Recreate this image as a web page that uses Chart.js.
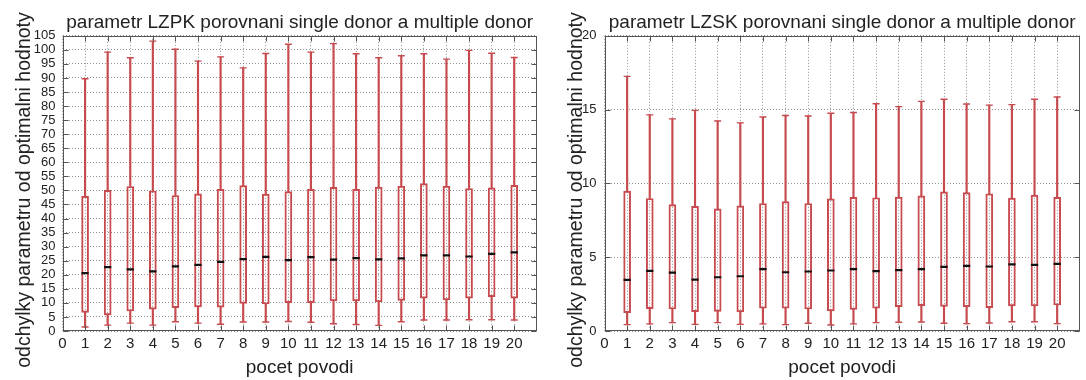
<!DOCTYPE html>
<html>
<head>
<meta charset="utf-8">
<script src="https://cdn.jsdelivr.net/npm/chart.js@4/dist/chart.umd.min.js"></script>
<style>
  html, body { margin: 0; padding: 0; background: #fff; }
  .panel { position: absolute; top: 0; width: 543px; height: 380px; }
  #p1 { left: 0; }
  #p2 { left: 543px; }
</style>
</head>
<body>
<div class="panel" id="p1"><canvas id="c1"></canvas></div>
<div class="panel" id="p2"><canvas id="c2"></canvas></div>
<script>
// Number of catchments (x positions of the boxes)
const povodi = [1, 2, 3, 4, 5, 6, 7, 8, 9, 10, 11, 12, 13, 14, 15, 16, 17, 18, 19, 20];
const xTicks = [0, 1, 2, 3, 4, 5, 6, 7, 8, 9, 10, 11, 12, 13, 14, 15, 16, 17, 18, 19, 20];

// LZPK: whisker ends, quartiles and medians
const lzpkLow  = [1.4, 2.1, 2.8, 2.1, 3.3, 2.8, 2.4, 3.2, 3.2, 3.4, 3.1, 2.6, 2.3, 2.0, 3.3, 3.9, 3.9, 4.0, 4.0, 3.9];
const lzpkQ1   = [6.6, 5.7, 7.1, 7.8, 8.3, 8.6, 8.5, 9.8, 9.6, 10.1, 10.1, 10.7, 10.7, 10.4, 10.9, 11.7, 11.1, 11.7, 12.2, 11.7];
const lzpkMed  = [20.6, 22.7, 21.9, 21.2, 23.0, 23.5, 24.6, 25.6, 26.4, 25.2, 26.3, 25.4, 25.9, 25.5, 25.8, 26.9, 26.9, 26.5, 27.4, 28.0];
const lzpkQ3   = [47.9, 50.0, 51.4, 49.8, 48.2, 48.8, 50.4, 51.7, 48.7, 49.6, 50.4, 51.1, 50.4, 51.2, 51.5, 52.4, 51.5, 50.7, 50.9, 51.8];
const lzpkHigh = [89.7, 99.2, 97.2, 103.1, 100.2, 96.0, 97.5, 93.6, 98.7, 102.0, 99.2, 102.2, 98.6, 97.2, 97.9, 98.6, 96.7, 99.8, 98.8, 97.3];
const lzpkYTicks = [0, 5, 10, 15, 20, 25, 30, 35, 40, 45, 50, 55, 60, 65, 70, 75, 80, 85, 90, 95, 100, 105];

// LZSK: whisker ends, quartiles and medians
const lzskLow  = [0.43, 0.48, 0.57, 0.45, 0.57, 0.45, 0.48, 0.43, 0.52, 0.41, 0.48, 0.57, 0.59, 0.61, 0.52, 0.50, 0.54, 0.63, 0.63, 0.50];
const lzskQ1   = [1.24, 1.52, 1.49, 1.31, 1.33, 1.29, 1.54, 1.54, 1.49, 1.36, 1.47, 1.54, 1.65, 1.72, 1.67, 1.65, 1.58, 1.70, 1.70, 1.76];
const lzskMed  = [3.46, 4.07, 3.96, 3.48, 3.64, 3.71, 4.19, 3.98, 4.03, 4.10, 4.19, 4.05, 4.12, 4.19, 4.34, 4.41, 4.37, 4.52, 4.48, 4.55];
const lzskQ3   = [9.48, 8.98, 8.57, 8.44, 8.28, 8.48, 8.64, 8.76, 8.64, 8.96, 9.05, 9.03, 9.07, 9.16, 9.43, 9.37, 9.30, 9.00, 9.21, 9.05];
const lzskHigh = [17.25, 14.64, 14.37, 14.95, 14.23, 14.10, 14.50, 14.60, 14.57, 14.75, 14.80, 15.40, 15.20, 15.56, 15.70, 15.38, 15.30, 15.34, 15.70, 15.85];
const lzskYTicks = [0, 5, 10, 15, 20];

const RED = 'rgb(198, 74, 78)';
const INK = '#222';
const FONT = "'Liberation Sans', Arial, Helvetica, sans-serif";
const Y_LABEL = 'odchylky parametru od optimalni hodnoty';

// Plot frame with inward tick marks on all four sides (gnuplot style)
const framePlugin = {
  id: 'frame',
  afterDatasetsDraw(chart) {
    const { ctx, chartArea: a, scales: { x, y } } = chart;
    const L = Math.round(a.left) + 0.5, R = Math.round(a.right) - 0.5;
    const T = Math.round(a.top) + 0.5, B = Math.round(a.bottom) - 0.5;
    const len = 5;
    ctx.save();
    ctx.strokeStyle = '#555';
    ctx.lineWidth = 1;
    ctx.beginPath();
    x.ticks.forEach(t => {
      const px = Math.round(x.getPixelForValue(t.value)) + 0.5;
      ctx.moveTo(px, B); ctx.lineTo(px, B - len);
      ctx.moveTo(px, T); ctx.lineTo(px, T + len);
    });
    y.ticks.forEach(t => {
      const py = Math.round(y.getPixelForValue(t.value)) + 0.5;
      ctx.moveTo(L, py); ctx.lineTo(L + len, py);
      ctx.moveTo(R, py); ctx.lineTo(R - len, py);
    });
    ctx.stroke();
    ctx.strokeRect(L, T, R - L, B - T);
    ctx.restore();
  }
};

// Rotated y-axis label, centred on the full figure height
const yLabelPlugin = {
  id: 'yLabel',
  afterDraw(chart, args, opts) {
    const { ctx, height } = chart;
    ctx.save();
    ctx.translate(opts.x, height / 2);
    ctx.rotate(-Math.PI / 2);
    ctx.fillStyle = INK;
    ctx.font = '19.5px ' + FONT;
    ctx.textAlign = 'center';
    ctx.textBaseline = 'middle';
    ctx.fillText(opts.text, 0, 0);
    ctx.restore();
  }
};

function boxChart(canvasId, p) {
  const pts = arr => povodi.map((x, i) => ({ x, y: arr[i] }));
  const span = (a, b) => povodi.map((x, i) => ({ x, y: [a[i], b[i]] }));
  return new Chart(document.getElementById(canvasId), {
    type: 'bar',
    data: {
      datasets: [
        { type: 'bar', data: span(p.low, p.q1), backgroundColor: RED, borderWidth: 0,
          barThickness: 1.5, grouped: false, order: 5 },
        { type: 'bar', data: span(p.q3, p.high), backgroundColor: RED, borderWidth: 0,
          barThickness: 1.5, grouped: false, order: 5 },
        { type: 'bar', data: span(p.q1, p.q3), backgroundColor: 'rgba(0,0,0,0)', borderColor: RED,
          borderWidth: 1.3, borderSkipped: false, barThickness: 7, grouped: false, order: 4 },
        { type: 'scatter', data: pts(p.high), pointStyle: 'line', radius: 3.5, borderColor: RED,
          borderWidth: 1.4, showLine: false, order: 3 },
        { type: 'scatter', data: pts(p.low), pointStyle: 'line', radius: 3.5, borderColor: RED,
          borderWidth: 1.4, showLine: false, order: 3 },
        { type: 'scatter', data: pts(p.med), pointStyle: 'line', radius: 3.6, borderColor: '#111',
          borderWidth: 2.2, showLine: false, order: 1 }
      ]
    },
    options: {
      responsive: true,
      maintainAspectRatio: false,
      animation: false,
      events: [],
      layout: { padding: { left: 0, right: p.padRight, top: 0, bottom: 0 } },
      plugins: {
        legend: { display: false },
        tooltip: { enabled: false },
        title: {
          display: true,
          text: p.title,
          fullSize: false,
          color: INK,
          font: { family: FONT, size: 19, weight: 'normal', lineHeight: 1.2 },
          padding: { top: 11, bottom: 2 }
        },
        yLabel: { text: Y_LABEL, x: p.labelX }
      },
      scales: {
        x: {
          type: 'linear',
          min: 0, max: 21,
          offset: false,
          afterBuildTicks: s => { s.ticks = xTicks.map(v => ({ value: v })); },
          afterFit: s => { s.height = 49; },
          ticks: { color: INK, padding: 4, font: { family: FONT, size: 15 }, maxRotation: 0, autoSkip: false },
          grid: { color: 'rgba(110,110,110,0.75)', lineWidth: 1, drawTicks: false, offset: false },
          border: { display: false, dash: [1, 2] },
          title: { display: true, text: 'pocet povodi', color: INK,
                   font: { family: FONT, size: 19, lineHeight: 1.2 }, padding: { top: 0, bottom: 1 } }
        },
        y: {
          type: 'linear',
          min: 0, max: p.yMax,
          afterBuildTicks: s => { s.ticks = p.yTicks.map(v => ({ value: v })); },
          afterFit: s => { s.width = p.axisWidth; },
          ticks: { color: INK, padding: p.tickPad, font: { family: FONT, size: 13 }, autoSkip: false },
          grid: { color: 'rgba(110,110,110,0.75)', lineWidth: 1, drawTicks: false },
          border: { display: false, dash: [1, 2] }
        }
      }
    },
    plugins: [framePlugin, yLabelPlugin]
  });
}

boxChart('c1', {
  title: 'parametr LZPK porovnani single donor a multiple donor',
  low: lzpkLow, q1: lzpkQ1, med: lzpkMed, q3: lzpkQ3, high: lzpkHigh,
  yMax: 105, yTicks: lzpkYTicks,
  axisWidth: 62.5, padRight: 6, tickPad: 7, labelX: 25
});

boxChart('c2', {
  title: 'parametr LZSK porovnani single donor a multiple donor',
  low: lzskLow, q1: lzskQ1, med: lzskMed, q3: lzskQ3, high: lzskHigh,
  yMax: 20, yTicks: lzskYTicks,
  axisWidth: 61.5, padRight: 2, tickPad: 8, labelX: 34
});
</script>
</body>
</html>
